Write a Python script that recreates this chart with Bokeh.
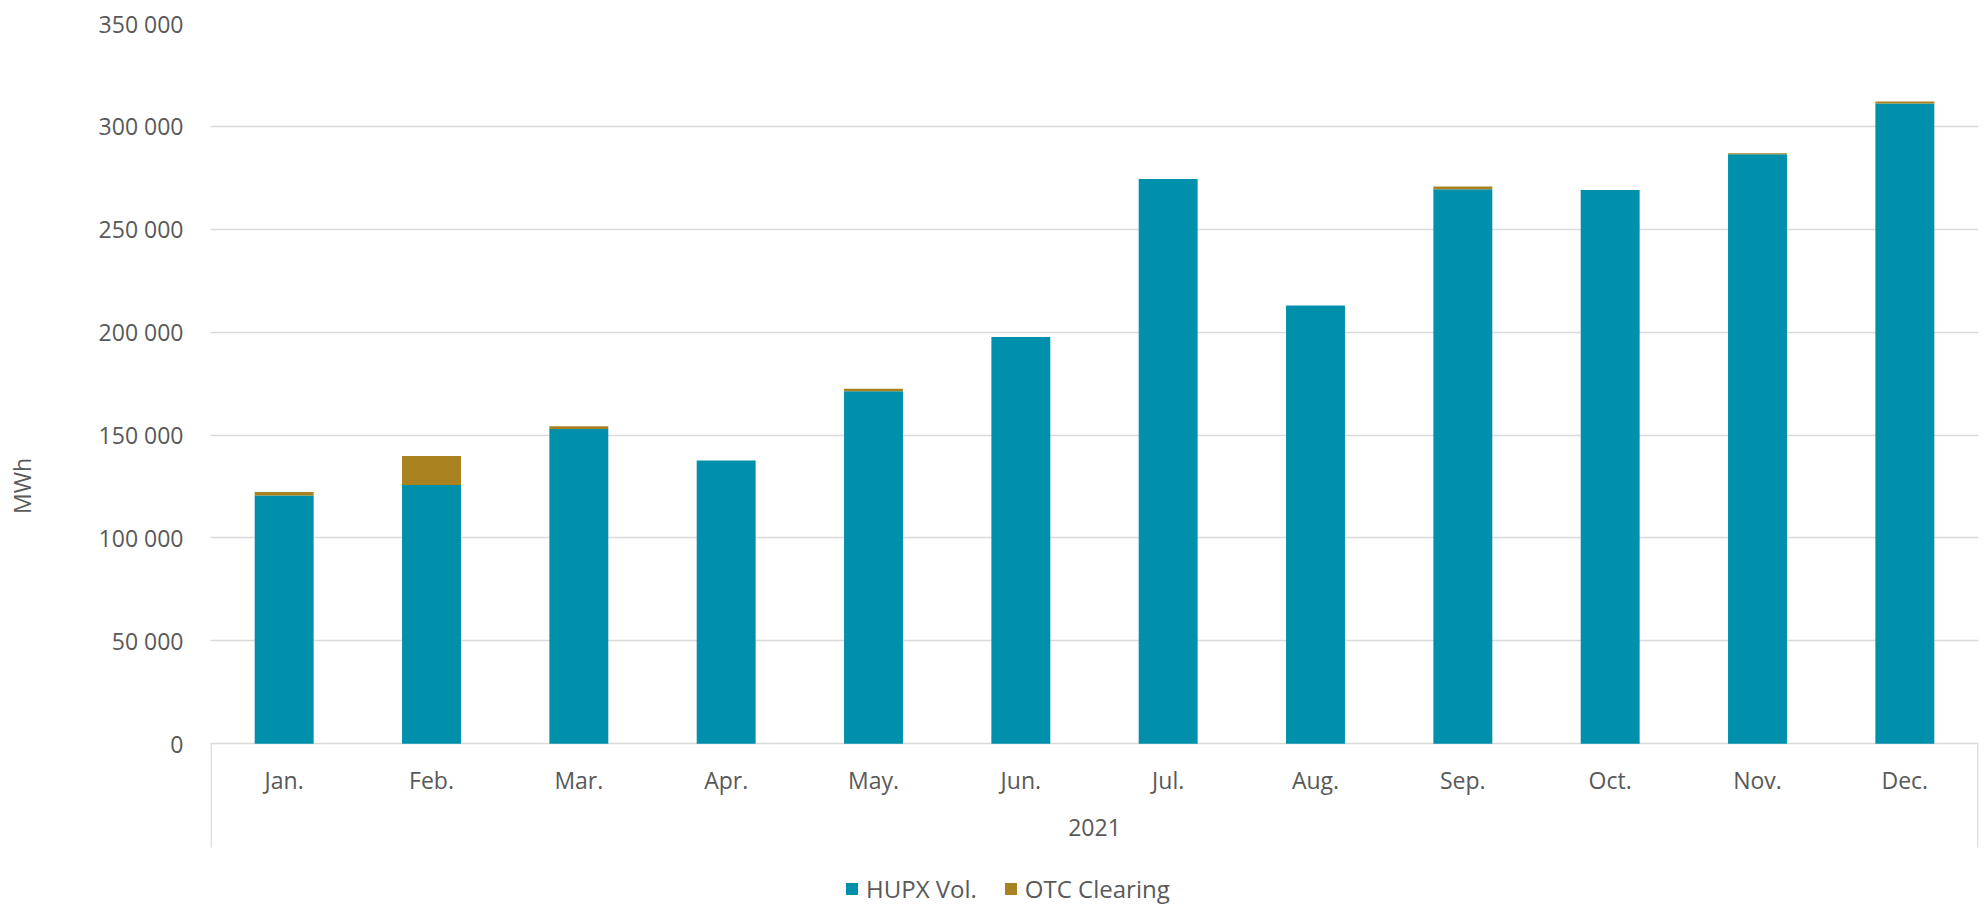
from bokeh.plotting import figure
from bokeh.models import (FactorRange, FixedTicker, Legend, LegendItem,
                          ColumnDataSource, Range1d)
from bokeh.embed import file_html
from bokeh.resources import INLINE

# ---------------- data ----------------
year = "2021"
months = ["Jan.", "Feb.", "Mar.", "Apr.", "May.", "Jun.",
          "Jul.", "Aug.", "Sep.", "Oct.", "Nov.", "Dec."]
hupx_vol = [120600, 125800, 153000, 137700, 171300, 197700,
            274500, 213000, 269400, 269100, 286500, 311100]
otc_clearing = [1700, 14000, 1300, 0, 1200, 0,
                0, 0, 1400, 0, 500, 1000]
series_names = ["HUPX Vol.", "OTC Clearing"]
y_ticks = [0, 50000, 100000, 150000, 200000, 250000, 300000, 350000]
y_tick_labels = ["0", "50 000", "100 000", "150 000", "200 000",
                 "250 000", "300 000", "350 000"]
y_title = "MWh"

# ---------------- style ----------------
TEAL = "#0190AC"
BROWN = "#A7821F"
GRID = "#D9D9D9"
TXT = "#595959"
FONT = "Open Sans"
FS = "23px"

factors = [(year, m) for m in months]
src = ColumnDataSource(dict(x=factors, hupx=hupx_vol, otc=otc_clearing))

# frame runs from the top gridline down to the canvas bottom, so the
# category axis, the group separators and the legend all sit inside it
Y_MIN = -79060      # frame bottom
Y_SEP = -50390      # end of the category-group separator lines
p = figure(x_range=FactorRange(*factors), y_range=Range1d(Y_MIN, 350000),
           width=1988, height=906, output_backend="svg", toolbar_location=None,
           min_border_left=210, min_border_right=10, min_border_top=23,
           min_border_bottom=0)
p.outline_line_color = None
p.background_fill_color = "white"
p.border_fill_color = "white"

renderers = p.vbar_stack(["hupx", "otc"], x="x", width=0.4, source=src,
                         color=[TEAL, BROWN], line_width=0)

# y axis
yax = p.yaxis[0]
yax.ticker = FixedTicker(ticks=y_ticks)
yax.major_label_overrides = {t: l for t, l in zip(y_ticks, y_tick_labels)}
yax.axis_line_color = None
yax.major_tick_line_color = None
yax.minor_tick_line_color = None
yax.major_tick_out = 0
yax.major_label_standoff = 27
yax.major_label_text_font = FONT
yax.major_label_text_font_size = FS
yax.major_label_text_color = TXT
# title sits a little lower than the frame centre in the reference
yax.axis_label = y_title + "\u00a0" * 7
yax.axis_label_standoff = 58
yax.axis_label_text_font = FONT
yax.axis_label_text_font_size = FS
yax.axis_label_text_font_style = "normal"
yax.axis_label_text_color = TXT

p.ygrid.ticker = FixedTicker(ticks=y_ticks)
p.ygrid.grid_line_color = GRID
p.ygrid.grid_line_width = 1.3
p.xgrid.grid_line_color = None

# x axis (multi-level) at zero
xax = p.xaxis[0]
xax.fixed_location = 0
xax.axis_line_color = None
xax.major_tick_line_color = None
xax.major_tick_out = 0
xax.major_label_standoff = 20
xax.major_label_text_font = FONT
xax.major_label_text_font_size = FS
xax.major_label_text_color = TXT
xax.group_text_font = FONT
xax.group_text_font_size = FS
xax.group_text_font_style = "normal"
xax.group_text_color = TXT
xax.group_label_orientation = "horizontal"
xax.separator_line_color = None

# outer separator lines of the category group
p.segment(x0=[0.004, len(months) - 0.004], y0=[0, 0],
          x1=[0.004, len(months) - 0.004], y1=[Y_SEP, Y_SEP],
          line_color=GRID, line_width=1.5)

legend = Legend(items=[LegendItem(label=series_names[i], renderers=[renderers[i]])
                       for i in range(2)],
                location=(634, 1), orientation="horizontal",
                glyph_width=15, glyph_height=15, label_standoff=7, spacing=26,
                padding=0, margin=0, border_line_color=None,
                background_fill_alpha=0,
                label_text_font=FONT, label_text_font_size="24px",
                label_text_color=TXT)
p.add_layout(legend, "center")

open("out.html", "w").write(file_html(p, INLINE))
